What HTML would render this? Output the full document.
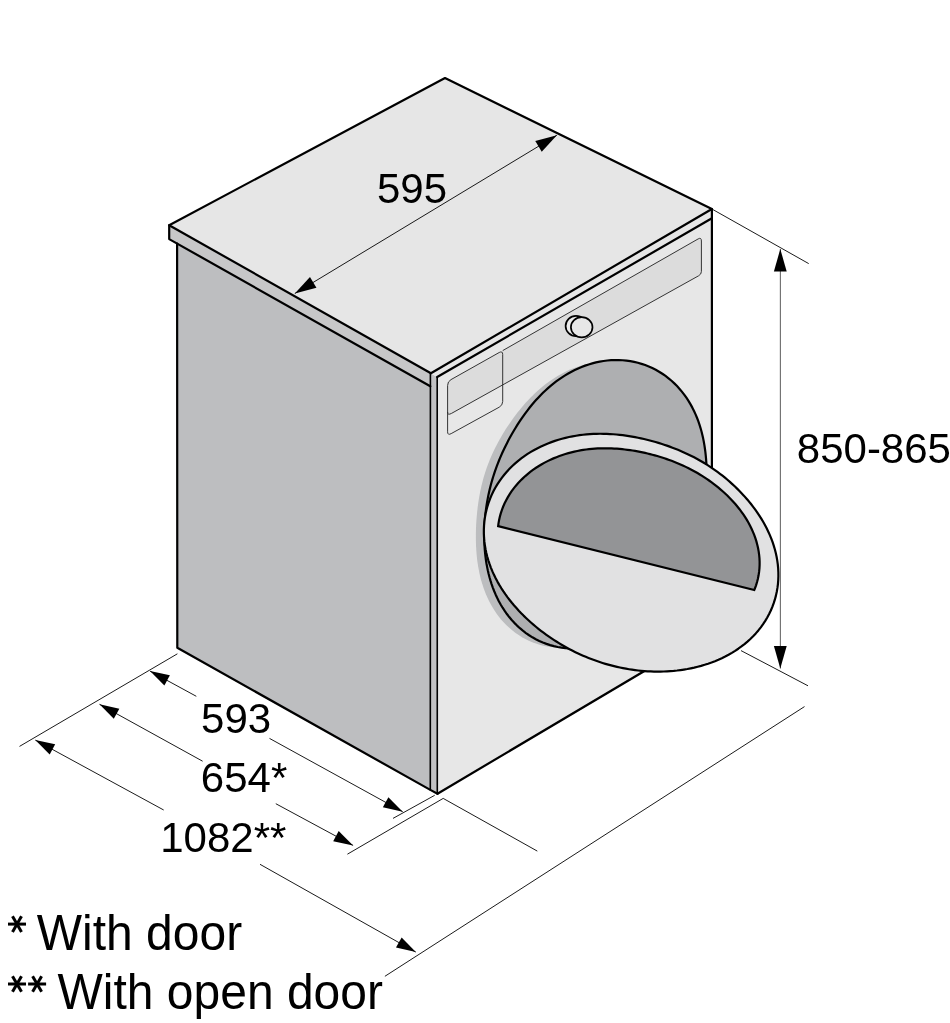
<!DOCTYPE html>
<html><head><meta charset="utf-8"><style>
html,body{margin:0;padding:0;background:#fff;}
svg{display:block;will-change:transform;}
</style></head><body>
<svg width="950" height="1023" viewBox="0 0 950 1023">
<rect width="950" height="1023" fill="#fff"/>
<polygon points="445,78 169.2,225.2 430.9,373.3 711.9,209" fill="#e6e6e6"/>
<polygon points="169.2,225.2 430.9,373.3 430.3,386.3 169.2,239.1" fill="#c7c7c8"/>
<polygon points="177.1,243.5 430.3,386.3 430.3,789.9 177.3,647.8" fill="#bdbec0"/>
<polygon points="430.6,373.3 437.2,377 437.5,793.7 430.3,789.9" fill="#c1c1c3"/>
<polygon points="430.9,373.3 711.9,209 711.9,218.3 437.2,377" fill="#e6e6e6"/>
<polygon points="437.2,377 711.9,218.3 711.9,631 437.5,793.7" fill="#e7e7e7"/>
<polygon points="445,78 169.2,225.2 430.9,373.3 711.9,209" stroke="#000" stroke-width="2.2" fill="none" stroke-linejoin="round" stroke-linecap="round"/>
<polyline points="169.2,225.2 169.2,239.1 430.3,386.3" stroke="#000" stroke-width="2.2" fill="none" stroke-linejoin="round" stroke-linecap="round"/>
<polyline points="177.1,243.5 177.3,647.8 430.3,789.9 437.5,793.7" stroke="#000" stroke-width="2.2" fill="none" stroke-linejoin="round" stroke-linecap="round"/>
<line x1="430.4" y1="373.3" x2="430.3" y2="789.9" stroke="#000" stroke-width="1.6" fill="none" stroke-linejoin="round" stroke-linecap="round"/>
<line x1="437.2" y1="377" x2="437.3" y2="793.7" stroke="#000" stroke-width="1.6" fill="none" stroke-linejoin="round" stroke-linecap="round"/>
<line x1="437.2" y1="377" x2="711.9" y2="218.3" stroke="#000" stroke-width="2.2" fill="none" stroke-linejoin="round" stroke-linecap="round"/>
<line x1="711.9" y1="209" x2="711.9" y2="631" stroke="#000" stroke-width="2.2" fill="none" stroke-linejoin="round" stroke-linecap="round"/>
<line x1="437.5" y1="793.7" x2="711.9" y2="631" stroke="#000" stroke-width="2.2" fill="none" stroke-linejoin="round" stroke-linecap="round"/>
<path d="M447.6,412 L447.6,385.5 Q447.6,381.5 451,379.6 L502.7,350.6 L698.2,238.9 Q701.4,237.1 701.4,241 L701.4,271.5 Q701.4,274.3 698.6,275.8 L451.5,413.4 Q447.6,415.6 447.6,412 Z" fill="#dcdcdc"/>
<path d="M502.7,350.6 L698.2,238.9 Q701.4,237.1 701.4,241 L701.4,271.5 Q701.4,274.3 698.6,275.8 L451.5,413.4 Q447.6,415.6 447.6,412" fill="none" stroke="#2a2a2a" stroke-width="0.95"/>
<path d="M447.6,385.5 Q447.6,381.5 451,379.6 L499.2,352.5 Q502.7,350.6 502.7,354.5 L502.7,401.5 Q502.7,405.3 499.2,407.2 L451.2,433.6 Q447.6,435.6 447.6,431.8 Z" fill="none" stroke="#2a2a2a" stroke-width="0.95"/>
<ellipse cx="576" cy="326" rx="10.4" ry="10.1" fill="#ebebeb" stroke="#000" stroke-width="1.7"/>
<ellipse cx="581.7" cy="327.3" rx="10.8" ry="10.1" fill="#e7e7e7" stroke="#000" stroke-width="1.7"/>
<defs><filter id="sb" x="-10%" y="-10%" width="120%" height="120%"><feGaussianBlur stdDeviation="0.5"/></filter></defs>
<path d="M477.97,505.00 L478.37,502.21 L478.79,499.43 L479.26,496.68 L479.75,493.94 L480.29,491.21 L480.86,488.51 L481.47,485.81 L482.12,483.13 L482.82,480.47 L483.55,477.82 L484.32,475.18 L485.14,472.55 L486.00,469.94 L486.90,467.34 L487.84,464.76 L488.83,462.18 L489.86,459.62 L490.93,457.07 L492.05,454.53 L493.20,452.00 L494.40,449.48 L495.65,446.97 L496.93,444.47 L498.26,441.98 L499.63,439.49 L501.04,437.01 L502.49,434.53 L503.99,432.06 L505.53,429.59 L507.12,427.12 L508.76,424.66 L510.44,422.19 L512.17,419.73 L513.96,417.27 L515.80,414.81 L517.69,412.36 L519.64,409.90 L521.66,407.46 L523.73,405.02 L525.88,402.60 L528.09,400.19 L530.38,397.79 L532.73,395.42 L535.17,393.08 L537.68,390.77 L540.28,388.49 L542.95,386.26 L545.71,384.08 L548.55,381.96 L551.48,379.90 L554.49,377.92 L557.58,376.01 L560.76,374.20 L564.01,372.48 L567.34,370.86 L570.74,369.36 L574.22,367.98 L577.75,366.73 L581.35,365.62 L585.00,364.64 L588.70,363.82 L592.43,363.16 L596.20,362.66 L600.00,362.33 L603.80,362.17 L607.62,362.18 L611.43,362.37 L615.24,362.75 L619.02,363.30 L622.77,364.04 L626.48,364.96 L630.15,366.06 L633.75,367.33 L637.29,368.78 L640.75,370.40 L644.13,372.18 L647.42,374.12 L650.62,376.22 L653.71,378.46 L656.68,380.84 L659.55,383.35 L662.29,385.98 L664.92,388.72 L667.41,391.57 L669.78,394.51 L672.03,397.53 L674.14,400.63 L676.12,403.80 L677.98,407.02 L679.71,410.29 L681.32,413.59 L682.81,416.93 L684.18,420.29 L685.44,423.66 L686.59,427.05 L687.64,430.43 L688.59,433.81 L689.44,437.18 L690.20,440.53 L690.88,443.87 L691.48,447.19 L692.01,450.48 L692.47,453.74 L692.86,456.98 L693.19,460.18 L693.47,463.36 L693.70,466.51 L693.88,469.62 L694.01,472.71 L694.10,475.77 L694.14,478.80 L694.15,481.80 L694.12,484.78 L694.05,487.73 L693.95,490.66 L693.81,493.56 L693.63,496.45 L693.41,499.32 L693.15,502.17 L692.86,505.00 L692.52,507.82 L692.14,510.62 L691.72,513.40 L691.26,516.17 L690.74,518.92 L690.18,521.66 L689.57,524.38 L688.91,527.09 L688.20,529.78 L687.44,532.45 L686.63,535.10 L685.77,537.74 L684.85,540.36 L683.88,542.96 L682.86,545.54 L681.79,548.09 L680.67,550.63 L679.50,553.15 L678.28,555.65 L677.02,558.13 L675.71,560.59 L674.35,563.03 L672.96,565.45 L671.52,567.86 L670.04,570.25 L668.52,572.63 L666.96,575.00 L665.36,577.36 L663.72,579.71 L662.05,582.05 L660.34,584.39 L658.58,586.72 L656.79,589.05 L654.95,591.39 L653.08,593.72 L651.15,596.05 L649.18,598.38 L647.16,600.71 L645.08,603.04 L642.95,605.37 L640.76,607.70 L638.51,610.02 L636.19,612.33 L633.81,614.62 L631.35,616.90 L628.82,619.15 L626.21,621.38 L623.52,623.57 L620.76,625.72 L617.91,627.81 L614.97,629.85 L611.96,631.83 L608.86,633.73 L605.68,635.55 L602.41,637.28 L599.07,638.90 L595.66,640.42 L592.17,641.81 L588.62,643.08 L585.00,644.21 L581.33,645.19 L577.61,646.03 L573.85,646.70 L570.05,647.20 L566.23,647.54 L562.40,647.69 L558.56,647.66 L554.72,647.45 L550.90,647.05 L547.09,646.47 L543.33,645.69 L539.60,644.72 L535.93,643.57 L532.32,642.23 L528.79,640.71 L525.33,639.02 L521.97,637.15 L518.70,635.12 L515.54,632.93 L512.49,630.59 L509.56,628.11 L506.75,625.50 L504.07,622.76 L501.51,619.91 L499.09,616.95 L496.81,613.90 L494.66,610.77 L492.65,607.57 L490.77,604.30 L489.03,600.97 L487.41,597.61 L485.93,594.20 L484.57,590.78 L483.33,587.33 L482.21,583.87 L481.20,580.41 L480.30,576.96 L479.50,573.51 L478.79,570.08 L478.18,566.67 L477.65,563.29 L477.20,559.93 L476.83,556.60 L476.52,553.30 L476.28,550.03 L476.09,546.81 L475.96,543.61 L475.88,540.45 L475.85,537.33 L475.86,534.24 L475.92,531.19 L476.01,528.17 L476.14,525.18 L476.30,522.22 L476.50,519.28 L476.73,516.38 L476.99,513.50 L477.29,510.65 L477.61,507.81 Z" fill="#bcbdbf" filter="url(#sb)"/>
<path d="M486.78,504.00 L487.26,501.15 L487.78,498.33 L488.33,495.53 L488.93,492.75 L489.56,489.99 L490.23,487.25 L490.93,484.53 L491.68,481.83 L492.46,479.14 L493.27,476.47 L494.12,473.82 L495.01,471.19 L495.93,468.56 L496.89,465.95 L497.88,463.36 L498.91,460.77 L499.97,458.20 L501.07,455.63 L502.21,453.07 L503.38,450.52 L504.58,447.98 L505.83,445.44 L507.11,442.91 L508.42,440.37 L509.78,437.84 L511.18,435.31 L512.62,432.78 L514.10,430.26 L515.63,427.73 L517.20,425.20 L518.82,422.67 L520.49,420.14 L522.22,417.61 L524.00,415.09 L525.84,412.57 L527.74,410.05 L529.71,407.54 L531.74,405.04 L533.84,402.56 L536.01,400.09 L538.25,397.64 L540.57,395.21 L542.97,392.82 L545.45,390.45 L548.00,388.13 L550.65,385.85 L553.37,383.62 L556.18,381.45 L559.08,379.35 L562.05,377.31 L565.11,375.35 L568.26,373.48 L571.48,371.70 L574.78,370.01 L578.15,368.44 L581.60,366.98 L585.11,365.64 L588.69,364.43 L592.32,363.35 L596.00,362.41 L599.73,361.63 L603.49,360.99 L607.29,360.51 L611.11,360.19 L614.95,360.04 L618.80,360.06 L622.64,360.25 L626.48,360.62 L630.29,361.16 L634.08,361.88 L637.83,362.77 L641.54,363.84 L645.19,365.08 L648.78,366.49 L652.30,368.07 L655.74,369.81 L659.10,371.71 L662.36,373.77 L665.52,375.97 L668.57,378.31 L671.51,380.78 L674.33,383.38 L677.04,386.09 L679.61,388.92 L682.06,391.84 L684.38,394.86 L686.57,397.95 L688.63,401.12 L690.56,404.35 L692.36,407.64 L694.03,410.98 L695.57,414.35 L696.99,417.75 L698.29,421.17 L699.47,424.60 L700.54,428.05 L701.51,431.49 L702.37,434.92 L703.14,438.35 L703.81,441.75 L704.40,445.14 L704.91,448.51 L705.35,451.84 L705.71,455.15 L706.02,458.43 L706.26,461.67 L706.45,464.89 L706.59,468.07 L706.69,471.21 L706.74,474.33 L706.75,477.41 L706.73,480.46 L706.67,483.49 L706.58,486.49 L706.46,489.46 L706.31,492.41 L706.13,495.33 L705.92,498.24 L705.67,501.13 L705.40,504.00 L705.09,506.86 L704.75,509.70 L704.37,512.53 L703.95,515.35 L703.50,518.15 L703.00,520.95 L702.46,523.73 L701.87,526.50 L701.24,529.27 L700.56,532.02 L699.82,534.75 L699.04,537.48 L698.20,540.19 L697.31,542.89 L696.37,545.57 L695.37,548.24 L694.32,550.89 L693.21,553.53 L692.04,556.15 L690.83,558.75 L689.56,561.33 L688.23,563.90 L686.86,566.45 L685.43,568.98 L683.96,571.49 L682.43,573.99 L680.86,576.47 L679.23,578.94 L677.56,581.40 L675.84,583.84 L674.08,586.28 L672.27,588.70 L670.40,591.11 L668.49,593.52 L666.53,595.92 L664.52,598.31 L662.45,600.69 L660.33,603.06 L658.15,605.42 L655.91,607.77 L653.62,610.11 L651.25,612.44 L648.82,614.74 L646.32,617.03 L643.75,619.28 L641.11,621.51 L638.39,623.70 L635.59,625.85 L632.71,627.95 L629.76,629.99 L626.72,631.97 L623.61,633.88 L620.41,635.71 L617.14,637.45 L613.79,639.09 L610.36,640.64 L606.87,642.06 L603.30,643.37 L599.68,644.54 L596.00,645.58 L592.27,646.47 L588.49,647.21 L584.68,647.79 L580.84,648.21 L576.98,648.45 L573.11,648.52 L569.24,648.41 L565.37,648.12 L561.52,647.64 L557.69,646.98 L553.90,646.13 L550.15,645.11 L546.46,643.90 L542.83,642.51 L539.28,640.94 L535.80,639.21 L532.41,637.31 L529.12,635.26 L525.93,633.05 L522.85,630.69 L519.89,628.20 L517.04,625.59 L514.31,622.85 L511.72,620.01 L509.24,617.06 L506.90,614.03 L504.69,610.91 L502.61,607.72 L500.66,604.47 L498.84,601.16 L497.14,597.81 L495.57,594.42 L494.13,591.01 L492.80,587.57 L491.58,584.12 L490.48,580.67 L489.48,577.21 L488.59,573.75 L487.79,570.31 L487.09,566.88 L486.47,563.47 L485.94,560.08 L485.49,556.71 L485.12,553.37 L484.81,550.06 L484.58,546.77 L484.40,543.52 L484.29,540.30 L484.24,537.11 L484.24,533.95 L484.29,530.82 L484.39,527.72 L484.54,524.66 L484.73,521.62 L484.97,518.62 L485.25,515.64 L485.57,512.69 L485.93,509.77 L486.34,506.87 Z" fill="#aeafb1" stroke="#000" stroke-width="2.2" stroke-linejoin="round"/>
<path d="M486.34,553.00 L485.53,549.16 L484.87,545.29 L484.37,541.38 L484.03,537.45 L483.86,533.50 L483.86,529.54 L484.03,525.58 L484.37,521.62 L484.90,517.68 L485.59,513.77 L486.47,509.89 L487.52,506.05 L488.74,502.27 L490.13,498.54 L491.69,494.88 L493.41,491.30 L495.29,487.79 L497.32,484.38 L499.50,481.06 L501.81,477.83 L504.25,474.72 L506.82,471.71 L509.51,468.81 L512.30,466.03 L515.20,463.37 L518.18,460.83 L521.25,458.41 L524.40,456.12 L527.61,453.94 L530.89,451.89 L534.22,449.96 L537.60,448.16 L541.01,446.47 L544.46,444.90 L547.94,443.44 L551.43,442.11 L554.94,440.88 L558.46,439.76 L561.99,438.75 L565.51,437.84 L569.04,437.03 L572.55,436.32 L576.05,435.71 L579.54,435.18 L583.02,434.75 L586.47,434.39 L589.90,434.12 L593.31,433.93 L596.69,433.81 L600.05,433.77 L603.38,433.79 L606.68,433.88 L609.95,434.03 L613.19,434.23 L616.40,434.50 L619.58,434.82 L622.73,435.19 L625.85,435.61 L628.94,436.07 L632.00,436.58 L635.03,437.14 L638.04,437.73 L641.02,438.36 L643.98,439.03 L646.91,439.73 L649.82,440.47 L652.71,441.25 L655.58,442.06 L658.43,442.91 L661.26,443.79 L664.08,444.71 L666.88,445.66 L669.66,446.65 L672.43,447.67 L675.19,448.74 L677.93,449.84 L680.66,450.99 L683.37,452.17 L686.08,453.40 L688.77,454.67 L691.45,455.99 L694.11,457.35 L696.77,458.77 L699.40,460.23 L702.03,461.74 L704.64,463.30 L707.24,464.91 L709.82,466.57 L712.39,468.29 L714.94,470.06 L717.47,471.89 L719.99,473.77 L722.49,475.71 L724.97,477.71 L727.44,479.77 L729.89,481.88 L732.31,484.06 L734.72,486.29 L737.10,488.59 L739.46,490.96 L741.79,493.39 L744.10,495.88 L746.37,498.45 L748.62,501.08 L750.82,503.78 L752.98,506.56 L755.10,509.41 L757.17,512.33 L759.18,515.33 L761.13,518.40 L763.01,521.55 L764.82,524.77 L766.55,528.06 L768.19,531.43 L769.74,534.87 L771.19,538.37 L772.52,541.94 L773.74,545.57 L774.83,549.26 L775.79,553.00 L776.61,556.79 L777.28,560.61 L777.80,564.47 L778.16,568.36 L778.36,572.27 L778.39,576.19 L778.25,580.11 L777.94,584.02 L777.45,587.92 L776.78,591.79 L775.94,595.64 L774.92,599.44 L773.72,603.19 L772.36,606.88 L770.82,610.50 L769.12,614.05 L767.26,617.52 L765.25,620.89 L763.09,624.18 L760.79,627.36 L758.36,630.43 L755.80,633.40 L753.13,636.25 L750.34,638.98 L747.46,641.60 L744.49,644.09 L741.43,646.46 L738.30,648.72 L735.11,650.85 L731.86,652.86 L728.55,654.75 L725.21,656.52 L721.83,658.18 L718.42,659.72 L714.99,661.16 L711.54,662.48 L708.08,663.70 L704.62,664.82 L701.15,665.85 L697.69,666.77 L694.23,667.61 L690.78,668.35 L687.34,669.02 L683.91,669.59 L680.50,670.09 L677.11,670.52 L673.74,670.87 L670.39,671.14 L667.06,671.35 L663.75,671.49 L660.47,671.57 L657.21,671.59 L653.97,671.54 L650.76,671.44 L647.57,671.28 L644.41,671.07 L641.27,670.80 L638.16,670.48 L635.07,670.11 L632.00,669.69 L628.96,669.22 L625.94,668.70 L622.94,668.14 L619.96,667.53 L617.01,666.87 L614.07,666.18 L611.16,665.43 L608.27,664.65 L605.39,663.82 L602.54,662.95 L599.70,662.04 L596.88,661.08 L594.08,660.08 L591.29,659.04 L588.52,657.96 L585.77,656.84 L583.03,655.67 L580.30,654.46 L577.59,653.21 L574.90,651.91 L572.21,650.57 L569.54,649.18 L566.88,647.75 L564.24,646.27 L561.60,644.74 L558.98,643.17 L556.37,641.55 L553.77,639.88 L551.19,638.16 L548.61,636.39 L546.05,634.57 L543.49,632.69 L540.95,630.76 L538.43,628.77 L535.91,626.73 L533.41,624.63 L530.93,622.47 L528.46,620.24 L526.01,617.95 L523.58,615.60 L521.18,613.17 L518.80,610.68 L516.45,608.11 L514.14,605.48 L511.86,602.76 L509.63,599.97 L507.44,597.11 L505.31,594.16 L503.24,591.14 L501.23,588.04 L499.29,584.86 L497.44,581.60 L495.67,578.27 L493.99,574.86 L492.42,571.38 L490.96,567.82 L489.61,564.21 L488.39,560.53 L487.29,556.79 Z" fill="#e1e1e2" stroke="#000" stroke-width="2.2" stroke-linejoin="round"/>
<path d="M498.16,526.09 L498.46,523.62 L499.06,520.17 L499.83,516.75 L500.76,513.37 L501.85,510.04 L503.10,506.77 L504.50,503.56 L506.05,500.42 L507.73,497.35 L509.55,494.37 L511.48,491.47 L513.54,488.66 L515.70,485.94 L517.97,483.32 L520.33,480.79 L522.78,478.37 L525.30,476.04 L527.90,473.82 L530.57,471.70 L533.29,469.68 L536.06,467.77 L538.88,465.96 L541.74,464.24 L544.63,462.63 L547.55,461.12 L550.50,459.70 L553.46,458.38 L556.43,457.15 L559.42,456.02 L562.41,454.97 L565.40,454.01 L568.39,453.13 L571.38,452.34 L574.36,451.63 L577.33,450.99 L580.28,450.43 L583.23,449.94 L586.15,449.51 L589.06,449.16 L591.95,448.87 L594.82,448.64 L597.66,448.47 L600.48,448.36 L603.28,448.30 L606.06,448.29 L608.81,448.33 L611.54,448.41 L614.25,448.54 L616.93,448.72 L619.59,448.93 L622.22,449.18 L624.84,449.47 L627.43,449.79 L630.00,450.15 L632.55,450.53 L635.09,450.95 L637.60,451.40 L640.10,451.88 L642.59,452.39 L645.06,452.93 L647.52,453.49 L649.96,454.09 L652.40,454.71 L654.82,455.37 L657.24,456.05 L659.64,456.76 L662.04,457.51 L664.44,458.28 L666.83,459.09 L669.21,459.94 L671.59,460.81 L673.96,461.73 L676.33,462.68 L678.69,463.67 L681.05,464.69 L683.41,465.76 L685.76,466.87 L688.11,468.02 L690.45,469.21 L692.80,470.45 L695.13,471.74 L697.46,473.07 L699.79,474.45 L702.11,475.89 L704.43,477.37 L706.74,478.90 L709.05,480.49 L711.34,482.13 L713.63,483.83 L715.90,485.59 L718.16,487.41 L720.41,489.29 L722.64,491.23 L724.86,493.23 L727.05,495.31 L729.21,497.45 L731.35,499.66 L733.46,501.94 L735.53,504.29 L737.55,506.71 L739.53,509.21 L741.46,511.78 L743.33,514.43 L745.13,517.15 L746.87,519.94 L748.52,522.81 L750.09,525.74 L751.56,528.75 L752.94,531.81 L754.20,534.95 L755.36,538.13 L756.39,541.38 L757.28,544.67 L758.05,548.00 L758.67,551.37 L759.14,554.77 L759.46,558.19 L759.62,561.62 L759.61,565.06 L759.44,568.50 L759.10,571.93 L758.59,575.33 L757.91,578.71 L757.06,582.05 L756.05,585.34 L754.86,588.57 L754.26,589.99 Z" fill="#939496" stroke="#000" stroke-width="2.2" stroke-linejoin="miter"/>
<line x1="294.8" y1="293.5" x2="556.9" y2="135.2" stroke="#000" stroke-width="0.9" fill="none"/>
<polygon points="294.80,293.50 316.43,287.73 309.97,277.03" fill="#000"/>
<polygon points="556.90,135.20 535.27,140.97 541.73,151.67" fill="#000"/>
<line x1="711.9" y1="209" x2="808.7" y2="263.6" stroke="#000" stroke-width="0.9" fill="none"/>
<line x1="741" y1="650.6" x2="808" y2="685.8" stroke="#000" stroke-width="0.9" fill="none"/>
<line x1="780.35" y1="249" x2="780.35" y2="668.5" stroke="#000" stroke-width="0.65"/>
<polygon points="780.30,249.00 773.90,271.50 786.70,271.50" fill="#000"/>
<polygon points="780.30,668.50 786.70,646.00 773.90,646.00" fill="#000"/>
<line x1="177.4" y1="653.8" x2="19.5" y2="746.4" stroke="#000" stroke-width="0.9" fill="none"/>
<line x1="434.7" y1="795.3" x2="393" y2="818.4" stroke="#000" stroke-width="0.9" fill="none"/>
<line x1="443.2" y1="798.4" x2="347.4" y2="854.2" stroke="#000" stroke-width="0.9" fill="none"/>
<line x1="443.2" y1="798.4" x2="537.3" y2="851.1" stroke="#000" stroke-width="0.9" fill="none"/>
<line x1="804.5" y1="706.6" x2="384.9" y2="976.3" stroke="#000" stroke-width="0.9" fill="none"/>
<line x1="150" y1="671.1" x2="196.3" y2="696.3" stroke="#000" stroke-width="0.9" fill="none"/>
<line x1="269.5" y1="738.4" x2="402.7" y2="811.7" stroke="#000" stroke-width="0.9" fill="none"/>
<polygon points="150.00,671.10 164.38,685.47 169.88,675.37" fill="#000"/>
<polygon points="402.70,811.70 388.39,797.26 382.84,807.34" fill="#000"/>
<line x1="99.5" y1="704.3" x2="202.6" y2="761.2" stroke="#000" stroke-width="0.9" fill="none"/>
<line x1="275.8" y1="803.7" x2="353.1" y2="845.4" stroke="#000" stroke-width="0.9" fill="none"/>
<polygon points="99.50,704.30 113.79,718.76 119.35,708.69" fill="#000"/>
<polygon points="353.10,845.40 338.67,831.08 333.21,841.20" fill="#000"/>
<line x1="35.3" y1="740.1" x2="163.7" y2="810" stroke="#000" stroke-width="0.9" fill="none"/>
<line x1="260" y1="864.3" x2="415.8" y2="952.1" stroke="#000" stroke-width="0.9" fill="none"/>
<polygon points="35.30,740.10 49.68,754.47 55.18,744.37" fill="#000"/>
<polygon points="415.80,952.10 401.63,937.52 395.99,947.54" fill="#000"/>
<text transform="translate(377,203.2) scale(1,1)" font-size="42" font-family="Liberation Sans, sans-serif" fill="#000">595</text>
<text transform="translate(796.8,463.4) scale(1,1)" font-size="42" font-family="Liberation Sans, sans-serif" fill="#000">850-865</text>
<text transform="translate(201.1,732.9) scale(1,1)" font-size="42" font-family="Liberation Sans, sans-serif" fill="#000">593</text>
<text transform="translate(200.8,791.5) scale(1,1)" font-size="42" font-family="Liberation Sans, sans-serif" fill="#000">654*</text>
<text transform="translate(160.2,852) scale(1,1)" font-size="42" font-family="Liberation Sans, sans-serif" fill="#000">1082**</text>
<text transform="translate(36.8,949.8) scale(1,1.025)" font-size="48" font-family="Liberation Sans, sans-serif" fill="#000">With door</text>
<text transform="translate(57.5,1009.2) scale(1,1.025)" font-size="48" font-family="Liberation Sans, sans-serif" fill="#000">With open door</text>
<line x1="8.00" y1="924.10" x2="26.00" y2="924.10" stroke="#000" stroke-width="3.0"/>
<line x1="12.50" y1="916.31" x2="21.50" y2="931.89" stroke="#000" stroke-width="3.0"/>
<line x1="21.50" y1="916.31" x2="12.50" y2="931.89" stroke="#000" stroke-width="3.0"/>
<line x1="8.00" y1="984.00" x2="26.00" y2="984.00" stroke="#000" stroke-width="3.0"/>
<line x1="12.50" y1="976.21" x2="21.50" y2="991.79" stroke="#000" stroke-width="3.0"/>
<line x1="21.50" y1="976.21" x2="12.50" y2="991.79" stroke="#000" stroke-width="3.0"/>
<line x1="28.10" y1="984.00" x2="46.10" y2="984.00" stroke="#000" stroke-width="3.0"/>
<line x1="32.60" y1="976.21" x2="41.60" y2="991.79" stroke="#000" stroke-width="3.0"/>
<line x1="41.60" y1="976.21" x2="32.60" y2="991.79" stroke="#000" stroke-width="3.0"/>
</svg>
</body></html>
